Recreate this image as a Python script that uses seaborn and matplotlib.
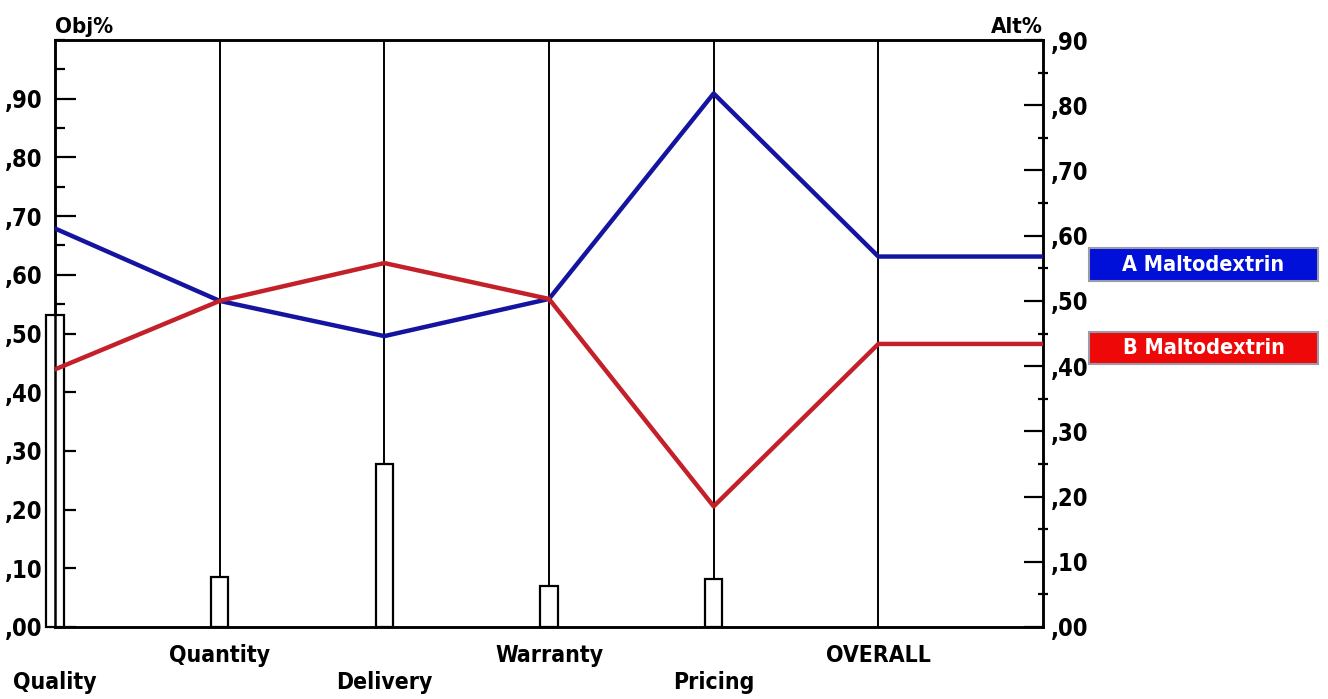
import matplotlib
matplotlib.use("Agg")
import matplotlib.pyplot as plt
import seaborn as sns
import pandas as pd
from matplotlib.ticker import FuncFormatter, MultipleLocator
from matplotlib.patches import Rectangle

# Criteria and weights (Obj%, left axis)
categories = ["Quality", "Quantity", "Delivery", "Warranty", "Pricing", "OVERALL"]
weights = [0.532, 0.086, 0.278, 0.069, 0.081]

# Alternative scores (Alt%, right axis), one per category incl. OVERALL
alt_names = ["A Maltodextrin", "B Maltodextrin"]
alt_a = [0.611, 0.500, 0.446, 0.503, 0.818, 0.568]
alt_b = [0.395, 0.500, 0.558, 0.503, 0.185, 0.434]
alt_colors = ["#1414a0", "#c4202a"]
box_colors = ["#0010d8", "#ee0808"]

sns.set_style("white")
plt.rcParams["font.family"] = ["DejaVu Sans"]
plt.rcParams["font.weight"] = "bold"
plt.rcParams["font.stretch"] = "condensed"
plt.rcParams["text.color"] = "black"
plt.rcParams["ytick.color"] = "black"

fig = plt.figure(figsize=(13.28, 6.99), dpi=100)
ax = fig.add_axes([55 / 1328, 1 - 627 / 699, (1043 - 55) / 1328, (627 - 40) / 699])
ax2 = ax.twinx()

n = len(categories)
xpos = list(range(n))

# weight bars
bars = pd.DataFrame({"x": xpos[:len(weights)], "w": weights})
sns.barplot(data=bars, x="x", y="w", native_scale=True, width=0.105,
            color="white", edgecolor="black", linewidth=1.6, ax=ax, zorder=3)
for p in ax.patches:
    p.set_clip_on(False)

# vertical criterion lines
for x in xpos[1:]:
    ax.axvline(x, color="black", lw=1.4, zorder=1)

# alternative lines, OVERALL carried to the right edge
for name, vals, col in zip(alt_names, [alt_a, alt_b], alt_colors):
    line = pd.DataFrame({"x": xpos + [n], "v": vals + [vals[-1]]})
    sns.lineplot(data=line, x="x", y="v", color=col, lw=3.2, ax=ax2, zorder=4)

ax.set_xlim(0, n)
ax.set_ylim(0, 1.0)
ax2.set_ylim(0, 0.9)
for a in (ax, ax2):
    a.set_xlabel("")
    a.set_ylabel("")
ax.set_xticks([])

fmt = FuncFormatter(lambda v, _: f"{v:.2f}"[1:].replace(".", ","))
for a in (ax, ax2):
    a.yaxis.set_major_locator(MultipleLocator(0.1))
    a.yaxis.set_minor_locator(MultipleLocator(0.05))
ax.set_yticks([i / 10 for i in range(10)])
ax.set_yticklabels([fmt(t, None) for t in ax.get_yticks()])
ax2.set_yticks([i / 10 for i in range(10)])
ax2.set_yticklabels([fmt(t, None) for t in ax2.get_yticks()])
ax.tick_params(axis="y", which="major", direction="in", length=15, width=1.6,
               labelsize=17, pad=9, left=True, colors="black")
ax.tick_params(axis="y", which="minor", direction="in", length=7, width=1.6, left=True)
ax2.tick_params(axis="y", which="major", direction="in", length=14, width=1.6,
                labelsize=17, pad=6, right=True, colors="black")
ax2.tick_params(axis="y", which="minor", direction="inout", length=7, width=1.6, right=True)

for a in (ax, ax2):
    for s in a.spines.values():
        s.set_visible(True)
        s.set_color("black")
        s.set_linewidth(1.8)

# staggered category labels
for i, c in enumerate(categories):
    y = -0.095 if i % 2 == 0 else -0.048
    ax.text(i, y, c, transform=ax.get_xaxis_transform(), ha="center", va="center",
            fontsize=16.5, fontweight="bold", clip_on=False)

fig.text(55 / 1328, 1 - 33 / 699, "Obj%", ha="left", va="baseline",
         fontsize=16, fontweight="bold")
fig.text(1043 / 1328, 1 - 33 / 699, "Alt%", ha="right", va="baseline",
         fontsize=16, fontweight="bold")

# legend boxes
for name, col, (top, bot) in zip(alt_names, box_colors, [(248, 281), (332, 364)]):
    x0, x1 = 1089 / 1328, 1318 / 1328
    fig.patches.append(Rectangle((x0, 1 - bot / 699), x1 - x0, (bot - top) / 699,
                                 transform=fig.transFigure, facecolor=col,
                                 edgecolor="#9a9aa8", lw=1.5))
    fig.text((x0 + x1) / 2, 1 - (top + bot) / 2 / 699, name, ha="center", va="center",
             color="white", fontsize=15.5, fontweight="bold")

fig.savefig("out.png", dpi=100)
